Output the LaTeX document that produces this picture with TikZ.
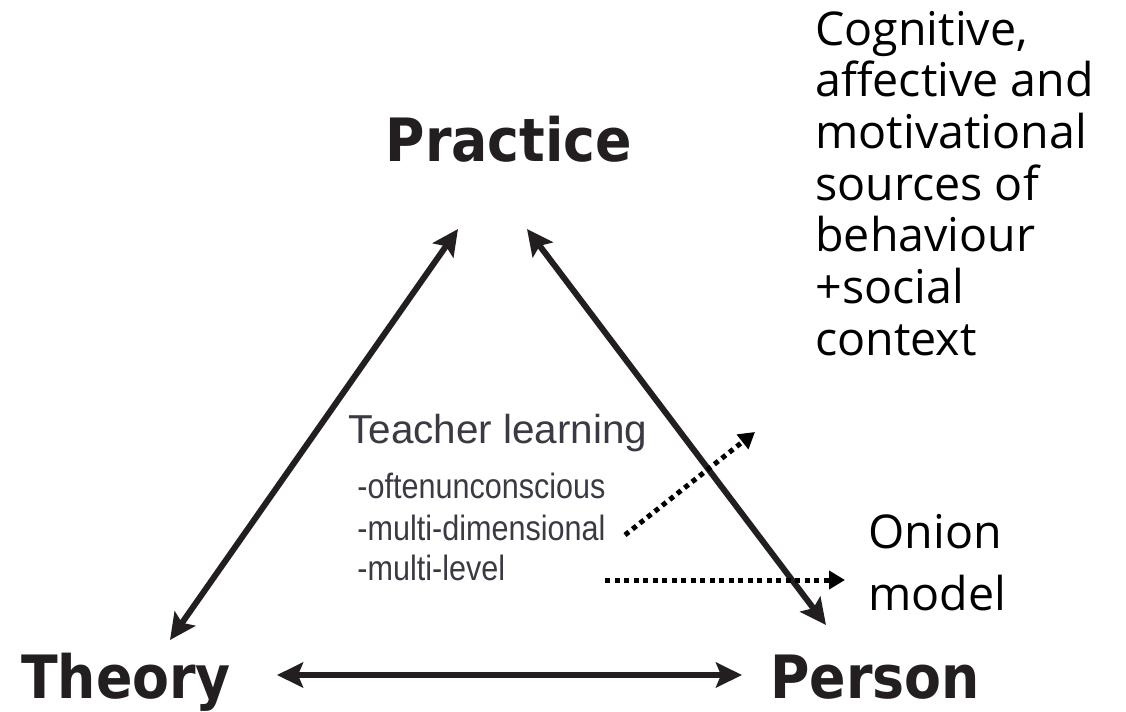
\documentclass[tikz,border=0pt]{standalone}
\usepackage{fontspec}
\setmainfont{Open Sans}
\newfontfamily\headfont{DejaVu Sans Condensed Bold}
\newfontfamily\arialfont{Liberation Sans}
\newfontfamily\narrowfont{Liberation Sans}[FakeStretch=0.87]
\usetikzlibrary{arrows.meta}
\definecolor{ink}{HTML}{231F20}
\definecolor{tlgray}{HTML}{3A3A44}
\tikzset{
  corner/.style = {font=\headfont\fontsize{34}{40}\selectfont, text=ink,
    inner sep=0pt, anchor=base},% sommet du triangle
  tl_head/.style = {font=\arialfont\fontsize{23}{28}\selectfont, text=tlgray,
    inner sep=0pt, anchor=base west},
  tl_item/.style = {font=\narrowfont\fontsize{20}{24}\selectfont, text=tlgray,
    inner sep=0pt, anchor=base west},
  side_txt/.style = {align=left, inner sep=0pt, anchor=base west},% base = derniere ligne
  thick_arr/.style = {{Stealth[length=0.52cm,width=0.5cm,inset=0.1cm]}-{Stealth[length=0.52cm,width=0.5cm,inset=0.1cm]},
    line width=0.12cm, ink},
  dot_arr/.style = {-{Triangle[length=0.32cm,width=0.36cm]}, line width=0.1cm,
    dash pattern=on 0.1cm off 0.09cm}
}
\begin{document}
\begin{tikzpicture}
  \useasboundingbox (0,0) rectangle (22.52,14.22);
  \node [corner] (prac) at (10.18,10.98) {Practice};
  \node [corner] (theo) at (2.52,0.26) {Theory};
  \node [corner] (pers) at (17.5,0.26) {Person};

  \node [tl_head] (tl) at (6.96,5.36) {Teacher learning};
  \node [tl_item] (unc) at (7.14,4.26) {-oftenunconscious};
  \node [tl_item] (dim) at (7.14,3.42) {-multi-dimensional};
  \node [tl_item] (lvl) at (7.14,2.62) {-multi-level};

  \node [side_txt, font=\fontsize{26.5}{29.4}\selectfont] (src) at (16.3,7.12)
    {Cognitive,\\affective and\\motivational\\sources of\\behaviour\\+social\\context};
  \node [side_txt, font=\fontsize{26.5}{35.2}\selectfont] (onion) at (17.36,2.02)
    {Onion\\model};

  % bouts des fleches
  \coordinate (prac-l) at (9.16,9.64);
  \coordinate (prac-r) at (10.54,9.64);
  \coordinate (theo-t) at (3.40,1.42);
  \coordinate (theo-r) at (5.54,0.72);
  \coordinate (pers-t) at (16.52,1.72);
  \coordinate (pers-l) at (14.84,0.72);
  \coordinate (dim-e) at (12.5,3.52);
  \coordinate (src-s) at (15.1,5.58);
  \coordinate (lvl-e) at (12.1,2.62);
  \coordinate (onion-w) at (16.9,2.62);

  \foreach \from/\to in {theo-t/prac-l,pers-t/prac-r,theo-r/pers-l}
    \draw [thick_arr] (\from) -- (\to);

  \foreach \from/\to in {dim-e/src-s,lvl-e/onion-w}
    \draw [dot_arr] (\from) -- (\to);
\end{tikzpicture}
\end{document}
